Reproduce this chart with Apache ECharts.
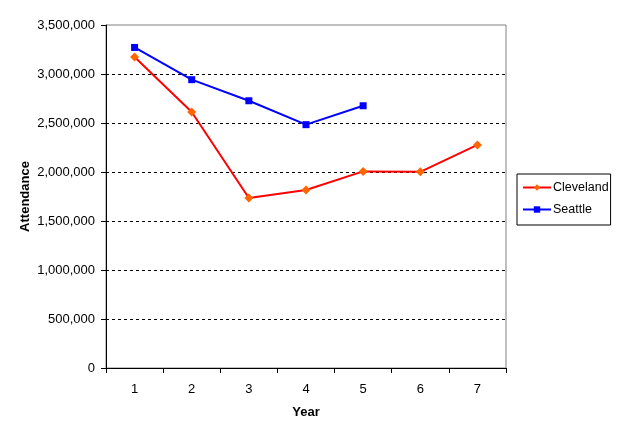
<!DOCTYPE html>
<html><head><meta charset="utf-8">
<script src="https://cdn.jsdelivr.net/npm/echarts@6/dist/echarts.min.js"></script>
<style>html,body{margin:0;padding:0;background:#fff}#c{width:619px;height:436px}</style>
</head><body><div id="c"></div>
<script>
const years = ['1','2','3','4','5','6','7'];
const cleveland = [3173000, 2612000, 1735000, 1816000, 2006000, 2002000, 2276000];
const seattle = [3271000, 2942000, 2727000, 2483000, 2676000];
const yTicksMax = 3500000;
const yTickStep = 500000;

const font = 'Liberation Sans, Arial, sans-serif';
const chart = echarts.init(document.getElementById('c'));
chart.setOption({
  animation: false,
  backgroundColor: '#fff',
  textStyle: {fontFamily: font},
  grid: {left: 106, top: 25, width: 400, height: 343, show: true, borderColor: '#808080', borderWidth: 1, backgroundColor: '#fff'},
  legend: {
    left: 517, top: 174, orient: 'vertical',
    borderColor: '#000', borderWidth: 1, borderRadius: 0, padding: [7, 2, 9, 5],
    itemWidth: 28, itemHeight: 8, itemGap: 9,
    textStyle: {fontFamily: font, fontSize: 12.5, color: '#000', padding: [0,0,0,-3]},
    data: ['Cleveland', 'Seattle']
  },
  xAxis: {
    type: 'category', data: years, boundaryGap: true,
    name: 'Year', nameLocation: 'middle', nameGap: 38, nameMoveOverlap: false,
    nameTextStyle: {fontFamily: font, fontSize: 13, fontWeight: 'bold', color: '#000'},
    axisLine: {lineStyle: {color: '#000', width: 1}},
    axisTick: {show: true, interval: 0, length: 5, lineStyle: {color: '#000'}},
    axisLabel: {fontFamily: font, fontSize: 13, color: '#000', margin: 15},
    splitLine: {show: false}
  },
  yAxis: {
    type: 'value', min: 0, max: yTicksMax, interval: yTickStep,
    name: 'Attendance', nameLocation: 'middle', nameGap: 74, nameMoveOverlap: false,
    nameTextStyle: {fontFamily: font, fontSize: 13, fontWeight: 'bold', color: '#000'},
    axisLine: {show: true, lineStyle: {color: '#000', width: 1}},
    axisTick: {show: true, length: 5, lineStyle: {color: '#000'}},
    axisLabel: {fontFamily: font, fontSize: 13, color: '#000', margin: 11,
      formatter: v => v.toString().replace(/\B(?=(\d{3})+(?!\d))/g, ',')},
    splitLine: {show: true, lineStyle: {type: [3, 3], width: 1,
      color: ['rgba(0,0,0,0)','#000','#000','#000','#000','#000','#000','rgba(0,0,0,0)']}}
  },
  series: [
    {name: 'Cleveland', type: 'line', data: cleveland, symbol: 'diamond', symbolSize: 9,
     itemStyle: {color: '#FF6600'}, lineStyle: {color: '#FF0000', width: 2}},
    {name: 'Seattle', type: 'line', data: seattle, symbol: 'rect', symbolSize: 7,
     itemStyle: {color: '#0000FF'}, lineStyle: {color: '#0000FF', width: 2}}
  ]
});
</script></body></html>
